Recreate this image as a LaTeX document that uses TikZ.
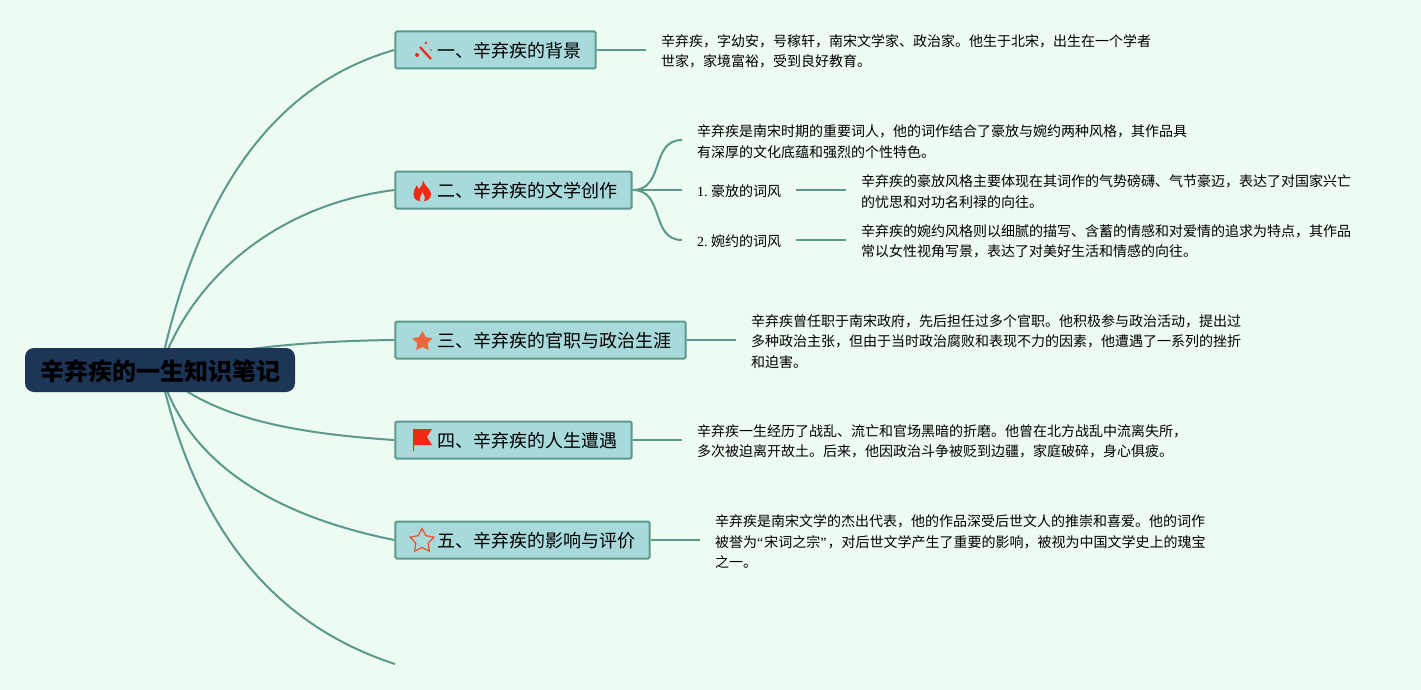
\documentclass[tikz,border=0pt]{standalone}
\usepackage{fontspec}
\setmainfont{Liberation Serif}
\newfontfamily\cjk{Noto Sans CJK SC}
\usetikzlibrary{backgrounds}
\usetikzlibrary{shapes.geometric}
\definecolor{paper}{HTML}{EEFBF2}
\definecolor{branch}{HTML}{5B9A8B}
\definecolor{boxfill}{HTML}{A8DADC}
\definecolor{rootfill}{HTML}{1D3557}
\definecolor{iconred}{HTML}{F02A12}
\definecolor{iconorange}{HTML}{E9673B}
\tikzset{
    rootbox/.style={fill=rootfill,rounded corners=9pt,minimum width=270pt,minimum height=44pt,inner sep=0pt,text depth=0pt,font=\cjk\bfseries\fontsize{24}{28}\selectfont},
    topicbox/.style={draw=branch,fill=boxfill,line width=2pt,rounded corners=1.5pt,minimum height=37pt,anchor=west,inner sep=0pt,text depth=0pt,font=\cjk\fontsize{18}{22}\selectfont},
    textbox/.style={anchor=west,inner xsep=15pt,inner ysep=0pt,align=left,font=\cjk\fontsize{14}{20.4}\selectfont},
    subbox/.style={anchor=west,inner xsep=15pt,inner ysep=0pt,font=\fontsize{14}{20.4}\selectfont},
    link/.style={draw=branch,line width=2pt},
}
\newcommand{\topictext}[1]{\hspace*{41.7pt}#1\hspace*{14.7pt}}
\begin{document}
\begin{tikzpicture}[x=1pt,y=-1pt]
    \useasboundingbox (0,0) rectangle (1421,690);

    \node[rootbox] (root) at (160,370) {辛弃疾的一生知识笔记};

    \node[topicbox] (bg) at (394.3,50) {\topictext{一、辛弃疾的背景}};
    \node[topicbox] (lit) at (394.3,190) {\topictext{二、辛弃疾的文学创作}};
    \node[topicbox] (job) at (394.3,340) {\topictext{三、辛弃疾的官职与政治生涯}};
    \node[topicbox] (life) at (394.3,440) {\topictext{四、辛弃疾的人生遭遇}};
    \node[topicbox] (fame) at (394.3,540) {\topictext{五、辛弃疾的影响与评价}};
    \coordinate (tail) at (395,664);

    \node[textbox] (bgt) at (646,51.5) {辛弃疾，字幼安，号稼轩，南宋文学家、政治家。他生于北宋，出生在一个学者\\世家，家境富裕，受到良好教育。};
    \node[textbox] (litt) at (682,141.5) {辛弃疾是南宋时期的重要词人，他的词作结合了豪放与婉约两种风格，其作品具\\有深厚的文化底蕴和强烈的个性特色。};
    \node[subbox] (hao) at (682,191) {1.\kern3.5pt{\cjk 豪放的词风}};
    \node[subbox] (wan) at (682,241) {2.\kern3.5pt{\cjk 婉约的词风}};
    \node[textbox] (haot) at (846,191.5) {辛弃疾的豪放风格主要体现在其词作的气势磅礴、气节豪迈，表达了对国家兴亡\\的忧思和对功名利禄的向往。};
    \node[textbox] (want) at (846,241.5) {辛弃疾的婉约风格则以细腻的描写、含蓄的情感和对爱情的追求为特点，其作品\\常以女性视角写景，表达了对美好生活和情感的向往。};
    \node[textbox] (jobt) at (736,341.5) {辛弃疾曾任职于南宋政府，先后担任过多个官职。他积极参与政治活动，提出过\\多种政治主张，但由于当时政治腐败和表现不力的因素，他遭遇了一系列的挫折\\和迫害。};
    \node[textbox] (lifet) at (682,441.5) {辛弃疾一生经历了战乱、流亡和官场黑暗的折磨。他曾在北方战乱中流离失所，\\多次被迫离开故土。后来，他因政治斗争被贬到边疆，家庭破碎，身心俱疲。};
    \node[textbox] (famet) at (700,541.5) {辛弃疾是南宋文学的杰出代表，他的作品深受后世文人的推崇和喜爱。他的词作\\被誉为{\rmfamily “}\kern1pt宋词之宗{\rmfamily ”}\kern1pt，对后世文学产生了重要的影响，被视为中国文学史上的瑰宝\\之一。};

    \begin{scope}[on background layer]
        \fill[paper] (0,0) rectangle (1421,690);
        \draw[link] (root.center) .. controls (197,195) and (272,85) .. (bg.west);
        \draw[link] (root.center) .. controls (190,280) and (275,205) .. (lit.west);
        \draw[link] (root.center) .. controls (210,350) and (300,341) .. (job.west);
        \draw[link] (root.center) .. controls (205,415) and (285,433) .. (life.west);
        \draw[link] (root.center) .. controls (185,460) and (270,515) .. (fame.west);
        \draw[link] (root.center) .. controls (195,530) and (275,625) .. (tail);
    \end{scope}

    \draw[link] (bg.east) -- (bgt.west |- bg.east);
    \draw[link] (lit.east) .. controls (665,190) and (650,140) .. (litt.west |- 0,140);
    \draw[link] (lit.east) -- (hao.west |- lit.east);
    \draw[link] (lit.east) .. controls (665,190) and (650,240) .. (wan.west |- 0,240);
    \draw[link] (hao.east |- lit.east) -- (haot.west |- lit.east);
    \draw[link] (wan.east |- 0,240) -- (want.west |- 0,240);
    \draw[link] (job.east) -- (jobt.west |- job.east);
    \draw[link] (life.east) -- (lifet.west |- life.east);
    \draw[link] (fame.east) -- (famet.west |- fame.east);

    % icons
    \draw[iconred,line width=2.2pt] (420,47) -- (431,59);
    \fill[iconred] (426,43) circle (1.4pt) (431,50) circle (0.8pt) (417,55) circle (2pt);
    \fill[iconred,even odd rule] (423,180) .. controls (424,186) and (431,189) .. (431,194) .. controls (431,198) and (428,201) .. (424,201) -- (420,201) .. controls (416,201) and (413.5,198) .. (413.5,194) .. controls (413.5,191) and (415,188) .. (417,185) .. controls (417.5,187) and (418,188) .. (419,189) .. controls (421,187) and (423,184) .. (423,180) -- cycle
        (422.5,192) .. controls (424,195) and (426,197) .. (424,201) -- (420,201) .. controls (419,198) and (421,195) .. (422.5,192) -- cycle;
    \node[star,star points=5,star point ratio=1.9,fill=iconorange,inner sep=0pt,minimum size=21pt] (starfull) at (422.5,341.5) {};
    \fill[iconred] (413,429) -- (432,429) -- (427,437) -- (432,445) -- (414,445) -- (414,451) -- (413,451) -- cycle;
    \node[star,star points=5,star point ratio=1.9,draw=iconorange!70!iconred,line width=1.3pt,inner sep=0pt,minimum size=25pt] (staropen) at (422,541) {};
\end{tikzpicture}
\end{document}
